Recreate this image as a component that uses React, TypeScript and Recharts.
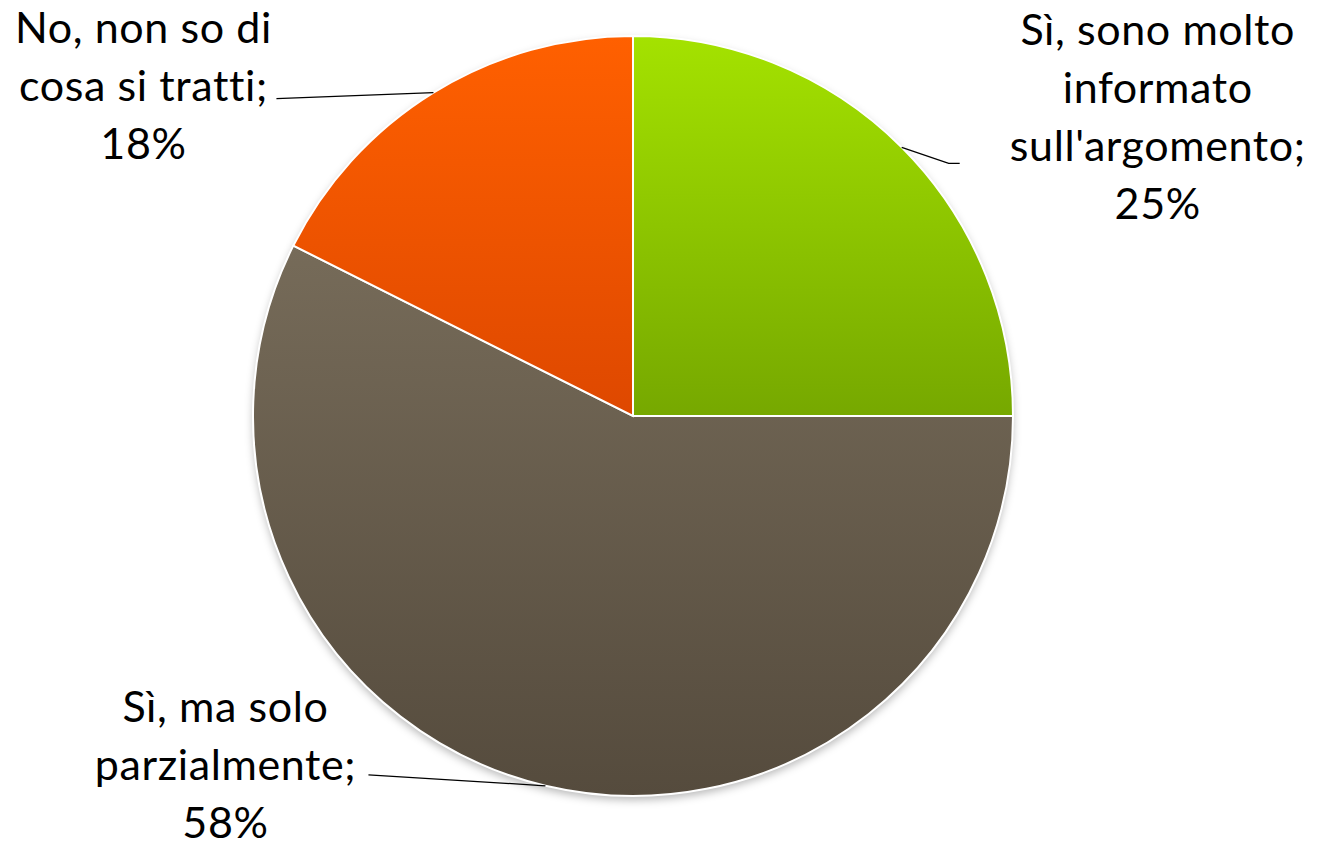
import { PieChart, Pie, Cell } from "recharts";

const CATEGORIES = [
  "Sì, sono molto informato sull'argomento",
  "Sì, ma solo parzialmente",
  "No, non so di cosa si tratti",
];
const VALUES = [25, 57.4, 17.6];
const PERCENT_LABELS = ["25%", "58%", "18%"];
// how each category name is wrapped in its label
const LABEL_LINES = [
  ["Sì, sono molto", "informato", "sull'argomento;"],
  ["Sì, ma solo", "parzialmente;"],
  ["No, non so di", "cosa si tratti;"],
];

const GRADIENTS = [
  { id: "gGreen", top: "#a4e200", bottom: "#76a800" },
  { id: "gBrown", top: "#766b59", bottom: "#554b3d" },
  { id: "gOrange", top: "#ff6000", bottom: "#de4800" },
];

// label placement relative to the point on the rim at the slice middle
const LABEL_LAYOUT = [
  { elbow: [47, 16], end: [58, 16], text: [256, -102] },
  { elbow: null, end: [-177, -11], text: [-320, -64] },
  { elbow: null, end: [-157, 6], text: [-290, -50] },
];

const FONT = "Lato, 'Open Sans', sans-serif";
const FONT_SIZE = 43;
const LINE_H = 58;

const data = CATEGORIES.map((name, i) => ({ name, value: VALUES[i] }));

const RAD = Math.PI / 180;

function renderLabel(props: any) {
  const { cx, cy, midAngle, outerRadius, index } = props;
  const ex = cx + outerRadius * Math.cos(-midAngle * RAD);
  const ey = cy + outerRadius * Math.sin(-midAngle * RAD);
  const lay = LABEL_LAYOUT[index];
  const pts = [[ex, ey]];
  if (lay.elbow) pts.push([ex + lay.elbow[0], ey + lay.elbow[1]]);
  pts.push([ex + lay.end[0], ey + lay.end[1]]);
  const tx = ex + lay.text[0];
  const ty = ey + lay.text[1];
  const lines = [...LABEL_LINES[index], PERCENT_LABELS[index]];
  return (
    <g key={`lbl-${index}`}>
      <polyline
        points={pts.map((p) => p.join(",")).join(" ")}
        fill="none"
        stroke="#000"
        strokeWidth={1.3}
      />
      <text
        x={tx}
        y={ty}
        textAnchor="middle"
        fontFamily={FONT}
        fontSize={FONT_SIZE}
        letterSpacing={0.6}
        fill="#000"
      >
        {lines.map((l, i) => (
          <tspan key={i} x={tx} dy={i === 0 ? 0 : LINE_H}>
            {l}
          </tspan>
        ))}
      </text>
    </g>
  );
}

export default function App() {
  return (
    <div style={{ position: "absolute", left: 0, top: 0, width: 1326, height: 846, background: "#fff" }}>
      <PieChart width={1326} height={846} margin={{ top: 0, right: 0, bottom: 0, left: 0 }}>
        <defs>
          {GRADIENTS.map((g) => (
            <linearGradient key={g.id} id={g.id} x1="0" y1="0" x2="0" y2="1">
              <stop offset="0%" stopColor={g.top} />
              <stop offset="100%" stopColor={g.bottom} />
            </linearGradient>
          ))}
          <filter id="pieShadow" x="-10%" y="-10%" width="120%" height="120%">
            <feGaussianBlur stdDeviation="4" />
          </filter>
        </defs>
        {/* soft shadow under the pie */}
        <Pie
          data={data}
          dataKey="value"
          nameKey="name"
          cx={633}
          cy={420}
          outerRadius={380}
          startAngle={90}
          endAngle={-270}
          stroke="none"
          isAnimationActive={false}
          label={false}
          labelLine={false}
        >
          {data.map((_, i) => (
            <Cell key={i} fill="#000" fillOpacity={0.28} filter="url(#pieShadow)" />
          ))}
        </Pie>
        <Pie
          data={data}
          dataKey="value"
          nameKey="name"
          cx={633}
          cy={416}
          outerRadius={380}
          startAngle={90}
          endAngle={-270}
          isAnimationActive={false}
          label={renderLabel}
          labelLine={false}
        >
          {data.map((_, i) => (
            <Cell key={i} fill={`url(#${GRADIENTS[i].id})`} stroke="#fff" strokeWidth={2} />
          ))}
        </Pie>
      </PieChart>
    </div>
  );
}
